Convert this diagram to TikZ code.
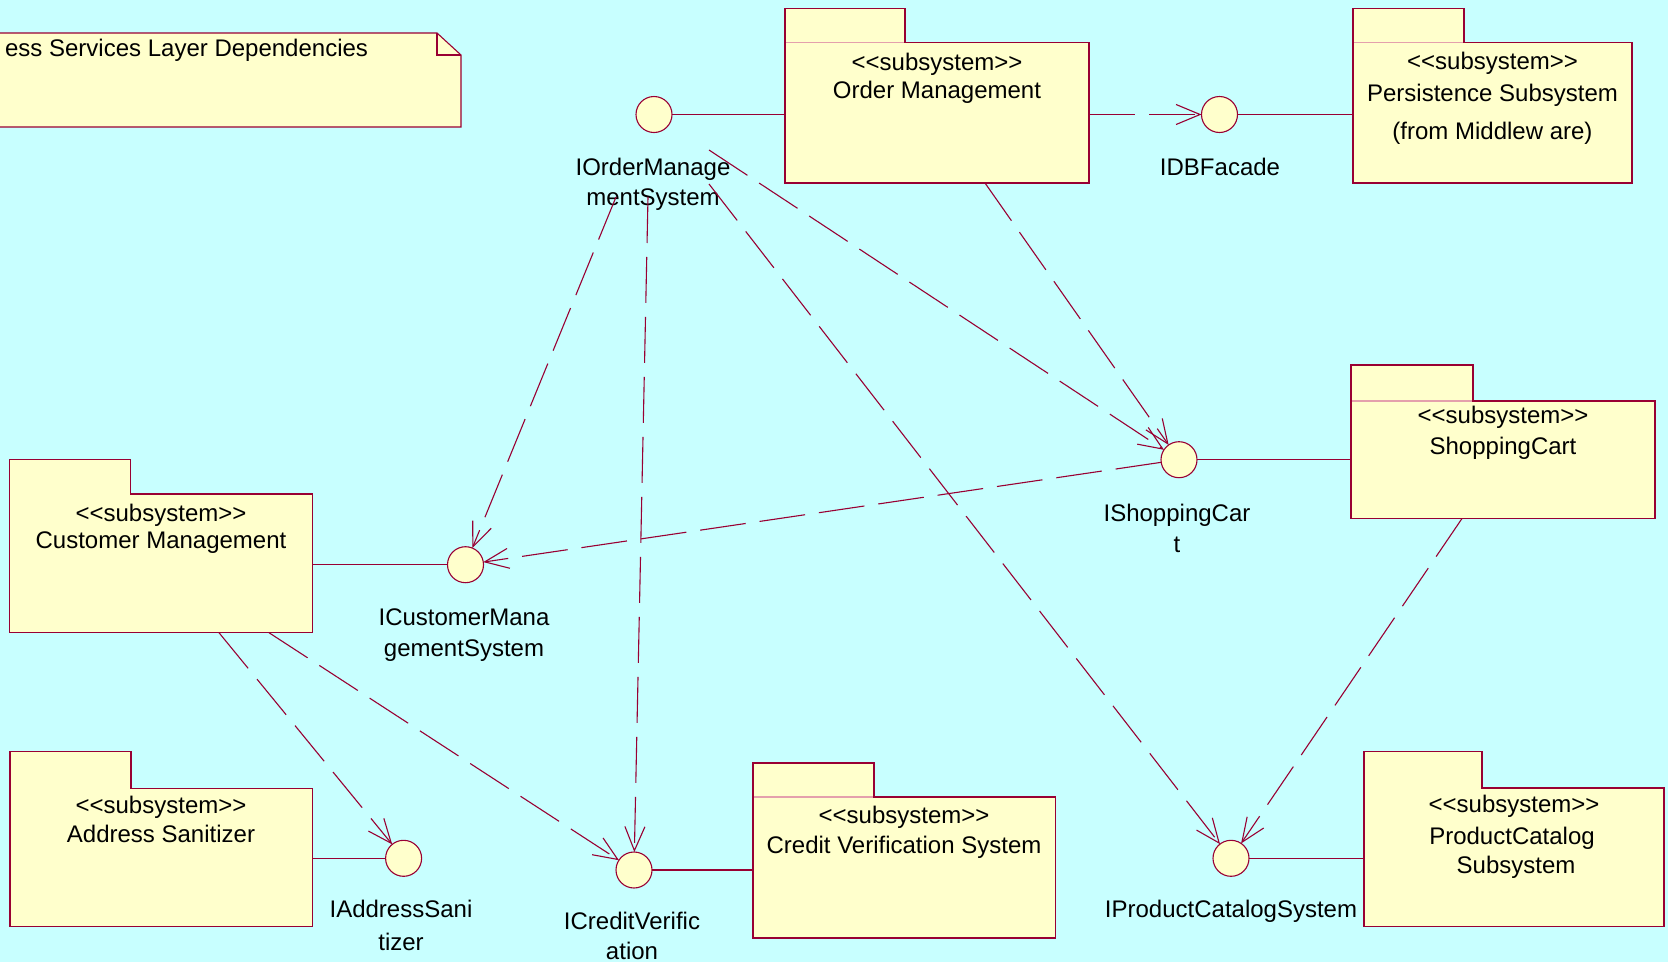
\documentclass[tikz,border=0pt]{standalone}
\usepackage{fontspec}
\setmainfont{Liberation Sans}
\usetikzlibrary{arrows.meta}

\definecolor{bgcyan}{RGB}{200,255,255}
\definecolor{pkgfill}{RGB}{255,255,204}
\definecolor{umlline}{RGB}{153,0,51}
\definecolor{tabline}{RGB}{228,160,172}

% stereotype text; the kerns keep << and >> from turning into guillemets
\newcommand{\subsysstereo}{<\kern0pt<subsystem>\kern0pt>}
% outline of a package: tab on top of the body, drawn as one path
\newcommand{\pkgoutline}[2]{%
  \draw[pkgline] (#2.south west) -- (#2.north west) -- (#2.north east)
    -- (#2.south east) -- (#1.north east) -- (#1.south east)
    -- (#1.south west) -- cycle;}

\begin{document}
\begin{tikzpicture}[x=1pt,y=-1pt,
  every node/.style={inner sep=0pt, outer sep=0pt},
  txt/.style={font=\fontsize{24}{29}\selectfont, anchor=base, text=black},
  pkgbody/.style={rectangle, fill=pkgfill},
  pkgtab/.style={rectangle, fill=pkgfill, anchor=south west},
  pkgline/.style={draw=umlline, line width=1.1pt, line join=miter},
  tabseam/.style={draw=tabline, line width=1.1pt},
  iface/.style={circle, draw=umlline, fill=pkgfill, line width=1.1pt, minimum size=36pt},
  link/.style={draw=umlline, line width=1.1pt},
  dep/.style={draw=umlline, line width=1.1pt, dash pattern=on 46pt off 14pt,
              -{Straight Barb[length=24pt,width=20pt]}},
]
\useasboundingbox (0,0) rectangle (1668,962);
\fill[bgcyan] (0,0) rectangle (1668,962);

% ---------- note ----------
\path[draw=umlline, fill=pkgfill, line width=1.1pt]
  (-10,33) -- (437,33) -- (461,55) -- (461,127) -- (-10,127) -- cycle;
\draw[link] (437,33) -- (437,55) -- (461,55);
\node[txt, anchor=base east] (note-t) at (368,56) {ess Services Layer Dependencies};

% ---------- subsystem packages ----------
% Order Management
\node[pkgtab, minimum width=120pt, minimum height=34pt] (om-tab) at (785,42.6) {};
\node[pkgbody, minimum width=304pt, minimum height=140.4pt] (om) at (937,112.8) {};
\draw[tabseam] ([xshift=1pt]om.north west) -- ([xshift=-1pt]om-tab.south east);
\pkgoutline{om}{om-tab}
\node[txt] (om-l1) at (937,70) {\subsysstereo};
\node[txt] (om-l2) at (937,98) {Order Management};

% Persistence Subsystem
\node[pkgtab, minimum width=111pt, minimum height=34pt] (ps-tab) at (1353,42.6) {};
\node[pkgbody, minimum width=279pt, minimum height=140.4pt] (ps) at (1492.5,112.8) {};
\draw[tabseam] ([xshift=1pt]ps.north west) -- ([xshift=-1pt]ps-tab.south east);
\pkgoutline{ps}{ps-tab}
\node[txt] (ps-l1) at (1492.5,69) {\subsysstereo};
\node[txt] (ps-l2) at (1492.5,101) {Persistence Subsystem};
\node[txt] (ps-l3) at (1492.5,139) {(from Middlew are)};

% ShoppingCart
\node[pkgtab, minimum width=122pt, minimum height=36pt] (sc-tab) at (1351,401) {};
\node[pkgbody, minimum width=304pt, minimum height=117.5pt] (sc) at (1503,459.75) {};
\draw[tabseam] ([xshift=1pt]sc.north west) -- ([xshift=-1pt]sc-tab.south east);
\pkgoutline{sc}{sc-tab}
\node[txt] (sc-l1) at (1503,423) {\subsysstereo};
\node[txt] (sc-l2) at (1503,454) {ShoppingCart};

% Customer Management
\node[pkgtab, minimum width=121pt, minimum height=34.7pt] (cm-tab) at (9.6,494) {};
\node[pkgbody, minimum width=303pt, minimum height=138.7pt] (cm) at (161.1,563.35) {};
\pkgoutline{cm}{cm-tab}
\node[txt] (cm-l1) at (161,521) {\subsysstereo};
\node[txt] (cm-l2) at (161,548) {Customer Management};

% Address Sanitizer
\node[pkgtab, minimum width=121pt, minimum height=36.6pt] (as-tab) at (10,788.3) {};
\node[pkgbody, minimum width=302.5pt, minimum height=138.4pt] (as) at (161.25,857.5) {};
\pkgoutline{as}{as-tab}
\node[txt] (as-l1) at (161,813) {\subsysstereo};
\node[txt] (as-l2) at (161,842) {Address Sanitizer};

% Credit Verification System
\node[pkgtab, minimum width=121pt, minimum height=34pt] (cvs-tab) at (753,797) {};
\node[pkgbody, minimum width=302.5pt, minimum height=141pt] (cvs) at (904.25,867.5) {};
\draw[tabseam] ([xshift=1pt]cvs.north west) -- ([xshift=-1pt]cvs-tab.south east);
\pkgoutline{cvs}{cvs-tab}
\node[txt] (cvs-l1) at (904,823) {\subsysstereo};
\node[txt] (cvs-l2) at (904,853) {Credit Verification System};

% ProductCatalog Subsystem
\node[pkgtab, minimum width=118pt, minimum height=36.3pt] (pc-tab) at (1364,788) {};
\node[pkgbody, minimum width=300pt, minimum height=138.7pt] (pc) at (1514,857.35) {};
\pkgoutline{pc}{pc-tab}
\node[txt] (pc-l1) at (1514,812) {\subsysstereo};
\node[txt] (pc-l2) at (1512,844) {ProductCatalog};
\node[txt] (pc-l3) at (1516,873) {Subsystem};

% ---------- interfaces ----------
\node[iface] (iom) at (654,114.5) {};
\node[iface] (idb) at (1219.5,114.5) {};
\node[iface] (isc) at (1179,459.7) {};
\node[iface] (icm) at (465.5,564.7) {};
\node[iface] (ias) at (403.6,858.3) {};
\node[iface] (icv) at (634,870) {};
\node[iface] (ipc) at (1231,858.3) {};

\node[txt] (iom-l1) at (653,175) {IOrderManage};
\node[txt] (iom-l2) at (653,205) {mentSystem};
\node[txt] (idb-l1) at (1220,175) {IDBFacade};
\node[txt] (isc-l1) at (1177,521) {IShoppingCar};
\node[txt] (isc-l2) at (1177,552) {t};
\node[txt] (icm-l1) at (464,625) {ICustomerMana};
\node[txt] (icm-l2) at (464,656) {gementSystem};
\node[txt] (ias-l1) at (401,917) {IAddressSani};
\node[txt] (ias-l2) at (401,950) {tizer};
\node[txt] (icv-l1) at (632,929) {ICreditVerific};
\node[txt] (icv-l2) at (632,959) {ation};
\node[txt] (ipc-l1) at (1231,917) {IProductCatalogSystem};

% ---------- realisation links (interface to subsystem) ----------
\draw[link] (iom) -- (om.west |- iom);
\draw[link] (idb) -- (ps.west |- idb);
\draw[link] (isc) -- (sc.west |- isc);
\draw[link] (icm) -- (cm.east |- icm);
\draw[link] (ias) -- (as.east |- ias);
\draw[link] (icv) -- (cvs.west |- icv);
\draw[link] (ipc) -- (pc.west |- ipc);

% ---------- dependencies ----------
\coordinate (s-iom-icm) at (616,197);
\coordinate (s-iom-icv) at (648,197);
\coordinate (s-iom-isc) at (709,150);
\coordinate (s-iom-ipc) at (709,184);
\coordinate (s-om-isc)  at (985,183);
\coordinate (s-sc-ipc)  at (1462,518.5);
\coordinate (s-cm-ias)  at (219,632.7);
\coordinate (s-cm-icv)  at (269,632.7);

\draw[dep] (om.east |- idb) -- (idb);
\draw[dep] (s-iom-icm) -- (icm);
\draw[dep] (s-iom-icv) -- (icv);
\draw[dep] (s-iom-isc) -- (isc);
\draw[dep] (s-iom-ipc) -- (ipc);
\draw[dep] (s-om-isc) -- (isc);
\draw[dep] (isc) -- (icm);
\draw[dep] (s-sc-ipc) -- (ipc);
\draw[dep] (s-cm-ias) -- (ias);
\draw[dep] (s-cm-icv) -- (icv);
\end{tikzpicture}
\end{document}
